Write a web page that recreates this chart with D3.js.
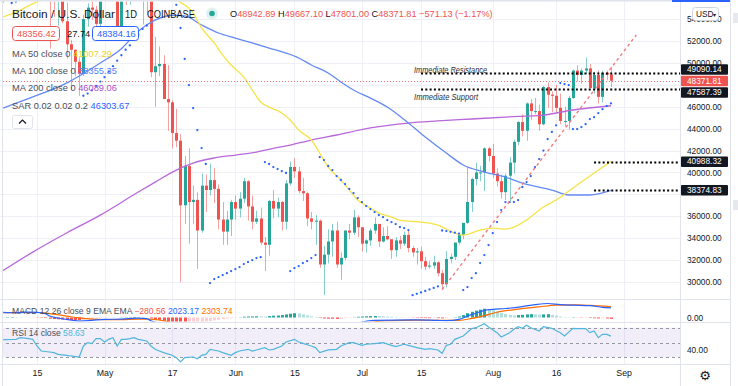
<!DOCTYPE html>
<html>
<head>
<meta charset="utf-8">
<script src="https://cdn.jsdelivr.net/npm/d3@7"></script>
<style>
  body { margin: 0; background: #fff; }
  svg { display: block; font-family: "Liberation Sans", Arial, sans-serif; }
</style>
</head>
<body>
<svg id="chart" width="738" height="386"></svg>
<script>
const parseDate = d3.utcParse("%Y-%m-%d");

// daily candles, first one is 2021-04-07
const firstDay = "2021-04-07";
const opens = [
  58020, 55950, 58080, 58130, 59770, 59980, 59840, 63580, 62960, 63200, 61400, 60000, 56150, 55650, 56500, 53800, 51700, 51200, 50100, 49000, 54000, 55050, 54850, 53560,
  57700, 57800, 56600, 57200, 53300, 57500, 56400, 57400, 58900, 58300, 55850, 56700, 49150, 49700, 49900, 46700, 46400, 43600, 42900, 37000, 40600, 37300, 37500, 34700, 38800, 38400, 39300, 38500, 35700, 34600, 35700,
  37300, 36700, 37600, 39200, 36900, 35500, 35800, 33600, 33400, 37400, 36700, 37300, 35500, 39000, 40500, 40100, 38300, 38100, 35800, 35500, 35600, 31600, 32500, 33700, 34700, 31600, 32200, 34700, 34500, 35900,
  35000, 33500, 33800, 34700, 35300, 33700, 34200, 33900, 32900, 33800, 33500, 34300, 33100, 32700, 32800, 31900, 31400, 31500, 31800, 30800, 29800, 32100, 32300, 33600, 34300, 35400, 37300, 39400, 40000, 40000, 42200,
  41500, 39900, 39200, 38200, 39700, 40900, 42800, 44600, 43800, 46300, 45600, 45600, 44400, 47800, 47100, 47000, 45900, 44700, 44700, 46800, 49300, 48900, 49300, 49500, 47700, 48900, 46900, 49100, 48942.89
];
const highs = [
  58650, 58140, 58900, 61200, 60700, 61200, 63800, 64900, 63800, 63600, 62500, 60400, 57500, 57000, 56800, 55500, 52100, 51200, 50500, 54400, 55450, 56400, 55200, 58000,
  58500, 57950, 58950, 57200, 58000, 58400, 58700, 59500, 59200, 59600, 57000, 58000, 52400, 51500, 50700, 49800, 46600, 45800, 43500, 41500, 42200, 38800, 38200, 39900, 39800, 40800, 40400, 38900, 37300, 36500, 37500,
  37900, 38200, 39500, 39300, 37900, 36500, 36800, 34100, 37500, 38400, 37700, 37400, 39300, 41000, 41300, 40500, 39500, 38200, 36400, 36100, 35700, 33300, 34800, 35300, 35500, 32700, 34700, 35300, 36600, 36100,
  35000, 33900, 34900, 35900, 35300, 35000, 35100, 33900, 34100, 34200, 34600, 34700, 33300, 33100, 33200, 32300, 31900, 32400, 31900, 31100, 32800, 32600, 33600, 34500, 35400, 40500, 39500, 40900, 40600, 42300, 42300,
  42600, 40400, 39800, 39900, 41400, 43000, 44700, 45300, 46400, 46700, 46800, 46200, 47900, 48200, 47400, 48000, 47200, 46000, 47000, 49400, 49800, 49500, 50500, 49900, 49200, 49300, 49300, 49300, 49667.10
];
const lows = [
  55470, 55700, 57700, 57900, 59200, 59370, 59800, 61300, 62000, 60000, 59600, 51300, 54200, 53400, 53600, 50400, 47500, 48800, 47000, 48800, 53300, 53900, 52400, 53000,
  57100, 56050, 56450, 53000, 52900, 55300, 55300, 56900, 56250, 53500, 54400, 48700, 46000, 48800, 46700, 43800, 42200, 42300, 30000, 35300, 33500, 35300, 31200, 34500, 36400, 37900, 37200, 34800, 33400, 33400, 34200,
  35700, 35900, 37200, 35600, 34800, 35300, 33400, 31000, 32400, 35800, 35900, 34700, 34800, 38800, 39500, 38100, 37400, 35100, 34800, 33400, 31300, 28800, 31700, 32300, 31300, 30200, 32000, 33900, 34300, 34100,
  32800, 32700, 33300, 34400, 33200, 33600, 33800, 32100, 32300, 33000, 33300, 32700, 32300, 31600, 31200, 31100, 31200, 31200, 30500, 29300, 29500, 31700, 32000, 33400, 33900, 35300, 36400, 38800, 39200, 38300, 41000,
  39500, 38700, 37600, 37500, 37400, 39900, 42500, 43300, 42900, 44800, 45300, 43800, 44300, 45900, 45500, 45500, 44400, 44200, 43900, 46700, 48300, 48100, 49000, 47700, 47200, 46300, 46400, 48400, 47801.00
];
const closes = [
  55950, 58080, 58130, 59770, 59980, 59840, 63580, 62960, 63200, 61400, 60000, 56150, 55650, 56500, 53800, 51700, 51200, 50100, 49000, 54000, 55050, 54850, 53560, 57700,
  57800, 56600, 57200, 53300, 57500, 56400, 57400, 58900, 58300, 55850, 56700, 49150, 49700, 49900, 46700, 46400, 43600, 42900, 37000, 40600, 37300, 37500, 34700, 38800, 38400, 39300, 38500, 35700, 34600, 35700, 37300,
  36700, 37600, 39200, 36900, 35500, 35800, 33600, 33400, 37400, 36700, 37300, 35500, 39000, 40500, 40100, 38300, 38100, 35800, 35500, 35600, 31600, 32500, 33700, 34700, 31600, 32200, 34700, 34500, 35900, 35000,
  33500, 33800, 34700, 35300, 33700, 34200, 33900, 32900, 33800, 33500, 34300, 33100, 32700, 32800, 31900, 31400, 31500, 31800, 30800, 29800, 32100, 32300, 33600, 34300, 35400, 37300, 39400, 40000, 40000, 42200, 41500,
  39900, 39200, 38200, 39700, 40900, 42800, 44600, 43800, 46300, 45600, 45600, 44400, 47800, 47100, 47000, 45900, 44700, 44700, 46800, 49300, 48900, 49300, 49500, 47700, 48900, 46900, 49100, 48942.94, 48371.81
];

// moving averages: [date, value]
const ma50 = [
  ["2021-04-07", 54200], ["2021-04-09", 54470], ["2021-04-16", 55750], ["2021-04-25", 56800], ["2021-05-05", 57300],
  ["2021-05-12", 57000], ["2021-05-18", 55740], ["2021-05-22", 54560], ["2021-05-24", 53190], ["2021-05-27", 51820],
  ["2021-05-29", 50720], ["2021-05-31", 49810], ["2021-06-03", 48710], ["2021-06-05", 47530], ["2021-06-07", 46430],
  ["2021-06-09", 45970], ["2021-06-12", 45430], ["2021-06-14", 44790], ["2021-06-16", 43870], ["2021-06-19", 42960],
  ["2021-06-21", 41770], ["2021-06-23", 40490], ["2021-06-26", 39310], ["2021-06-28", 38390], ["2021-06-30", 37480],
  ["2021-07-03", 36750], ["2021-07-05", 36290], ["2021-07-08", 35930], ["2021-07-10", 35650], ["2021-07-12", 35560],
  ["2021-07-15", 35470], ["2021-07-19", 35200], ["2021-07-23", 34470], ["2021-07-25", 34280], ["2021-07-29", 34740],
  ["2021-08-01", 34920], ["2021-08-04", 34830], ["2021-08-06", 35010], ["2021-08-09", 35650], ["2021-08-13", 36840],
  ["2021-08-16", 37480], ["2021-08-20", 38580], ["2021-08-24", 39670], ["2021-08-29", 41007.29]
];
const ma100 = [
  ["2021-04-07", 45880], ["2021-04-14", 46890], ["2021-04-22", 48160], ["2021-04-30", 49990], ["2021-05-05", 51300],
  ["2021-05-09", 52900], ["2021-05-13", 53900], ["2021-05-17", 54350], ["2021-05-20", 54300], ["2021-05-24", 53460],
  ["2021-05-28", 52730], ["2021-06-01", 52270], ["2021-06-05", 51820], ["2021-06-09", 51360], ["2021-06-13", 50900],
  ["2021-06-16", 50450], ["2021-06-19", 49810], ["2021-06-23", 49080], ["2021-06-26", 48260], ["2021-06-29", 47530],
  ["2021-07-03", 46790], ["2021-07-07", 45970], ["2021-07-12", 44510], ["2021-07-16", 43230], ["2021-07-21", 41770],
  ["2021-07-25", 40680], ["2021-07-30", 40040], ["2021-08-04", 39580], ["2021-08-08", 39030], ["2021-08-13", 38580],
  ["2021-08-15", 38390], ["2021-08-19", 37940], ["2021-08-24", 37940], ["2021-08-29", 38355.35]
];
const ma200 = [
  ["2021-04-06", 30810], ["2021-04-14", 32730], ["2021-04-22", 34470], ["2021-04-30", 36110], ["2021-05-09", 38210],
  ["2021-05-13", 39120], ["2021-05-18", 40220], ["2021-05-22", 40860], ["2021-05-27", 41320], ["2021-06-01", 41590],
  ["2021-06-06", 41860], ["2021-06-10", 42200], ["2021-06-14", 42500], ["2021-06-19", 42960], ["2021-06-25", 43420],
  ["2021-07-03", 44060], ["2021-07-12", 44510], ["2021-07-19", 44700], ["2021-07-27", 44880], ["2021-08-04", 45060],
  ["2021-08-13", 45240], ["2021-08-20", 45700], ["2021-08-29", 46089.06]
];

// parabolic SAR, one run of daily dots per trend: [first date, values]
const sarRuns = [
  ["2021-04-09", [55470, 55600, 55900, 56300, 56800, 57300, 57900, 58500, 59000]],
  ["2021-04-26", [47000, 47200, 47500, 47900, 48300, 48700, 49200, 49700, 50200, 50700, 51200, 51600, 52100, 52600, 53100, 53400]],
  ["2021-05-12", [59600, 59400, 59000, 58400, 57600, 56500, 55300, 53190, 50360, 47980, 45880, 43870, 42230, 40770]],
  ["2021-05-26", [29900, 30270, 30450, 30630, 30810, 31000, 31180, 31360, 31640, 31820, 32000, 32180, 32270]],
  ["2021-06-08", [40950, 40770, 40490, 40310, 40130, 39950]],
  ["2021-06-14", [31000, 31270, 31450, 31730, 31910, 32180, 32460]],
  ["2021-06-21", [41400, 41130, 40590, 40220, 39670, 39310, 38940, 38490, 38120, 37660, 37300, 36930, 36660, 36380, 36110, 35930, 35650, 35470, 35290, 35010, 34920, 34740]],
  ["2021-07-13", [28800, 28920, 29050, 29180, 29320, 29460, 29600]],
  ["2021-07-20", [34700, 34650, 34580, 34500, 34420]],
  ["2021-07-25", [29260, 29540, 30360, 30810, 31730, 32460, 33370, 34470, 35470, 36570, 37300, 37300, 37300, 37480, 38670, 39120, 39670, 40490, 41220, 42000, 43050, 43700, 44300]],
  ["2021-08-17", [48160, 48070, 47980]],
  ["2021-08-20", [43960, 43960, 44140, 44410, 44870, 45050, 45420, 45780, 46060, 46303.67]]
];

// MACD 12 26 9
const macdLine = [
  ["2021-04-07", 1100], ["2021-04-10", 1000], ["2021-04-13", 1150], ["2021-04-15", 1100], ["2021-04-17", 800],
  ["2021-04-18", 300], ["2021-04-20", -100], ["2021-04-22", -400], ["2021-04-25", -750], ["2021-04-28", -600],
  ["2021-05-01", -400], ["2021-05-05", -350], ["2021-05-09", -150], ["2021-05-11", -250], ["2021-05-12", -700],
  ["2021-05-14", -1200], ["2021-05-19", -3000], ["2021-05-24", -4200], ["2021-05-30", -4400], ["2021-06-06", -3800],
  ["2021-06-14", -2600], ["2021-06-21", -2700], ["2021-06-27", -1900], ["2021-07-02", -800], ["2021-07-04", -600],
  ["2021-07-09", -560], ["2021-07-14", -520], ["2021-07-19", -620], ["2021-07-21", -650], ["2021-07-24", -400],
  ["2021-07-26", 300], ["2021-07-28", 900], ["2021-07-30", 1500], ["2021-08-01", 1700], ["2021-08-04", 1900],
  ["2021-08-08", 2300], ["2021-08-11", 2700], ["2021-08-14", 2950], ["2021-08-17", 2700], ["2021-08-20", 2600],
  ["2021-08-24", 2500], ["2021-08-27", 2150], ["2021-08-29", 2023.17]
];
const signalLine = [
  ["2021-04-07", 1000], ["2021-04-13", 1050], ["2021-04-16", 1050], ["2021-04-19", 700], ["2021-04-22", 300],
  ["2021-04-25", -100], ["2021-04-28", -350], ["2021-05-01", -450], ["2021-05-05", -430], ["2021-05-09", -330],
  ["2021-05-12", -350], ["2021-05-15", -700], ["2021-05-20", -1900], ["2021-05-26", -3300], ["2021-06-02", -4000],
  ["2021-06-10", -3500], ["2021-06-18", -3000], ["2021-06-25", -2500], ["2021-07-01", -1400], ["2021-07-05", -800],
  ["2021-07-10", -600], ["2021-07-15", -560], ["2021-07-20", -600], ["2021-07-24", -600], ["2021-07-27", -200],
  ["2021-07-30", 400], ["2021-08-02", 1100], ["2021-08-07", 1750], ["2021-08-12", 2250], ["2021-08-16", 2600],
  ["2021-08-20", 2650], ["2021-08-24", 2550], ["2021-08-29", 2303.74]
];
// histogram, one bar per candle
const macdHist = [
  60, 80, 90, 70, 60, 40, 30,
  -20, -50, -80, -120,
  -250, -330, -380, -430, -480, -520, -540, -560,
  -450, -330, -250, -180, -100, -40, 0,
  20, 0, 40, 60, 90, 120, 120, 70, 40,
  -150, -350, -500, -700, -900, -1100, -1300, -1500, -1600,
  -1500, -1350, -1200, -1050, -900, -750, -600, -480, -350, -220, -120, -40,
  50, 150, 200, 220, 250, 240, 200, 300, 380, 420, 500, 650, 800, 900, 850,
  650, 450, 250, 100, -100, -200, -250, -250, -300, -250,
  -150, -50, 50, 150, 200, 250, 300, 320, 300, 250,
  200, 150, 100, 60, 30, -20, -50, -80, -100, -120, -130, -120, -140, -180, -100, -20, 60,
  200, 500, 900, 1200, 1450, 1650, 1850, 1800, 1600,
  1300, 1000, 750, 550, 450,
  500, 550, 650, 700, 650, 600, 650, 700,
  550, 400, 200, 80, 40, 60,
  -20, -60, -50, -100, -150, -200, -150, -200, -280.56
];

// RSI 14
const rsiPoints = [
  ["2021-04-07", 54], ["2021-04-10", 54.3], ["2021-04-11", 56.5], ["2021-04-13", 55.2], ["2021-04-14", 54.3],
  ["2021-04-15", 45.3], ["2021-04-16", 38.5], ["2021-04-18", 37.2], ["2021-04-19", 36.3], ["2021-04-20", 34],
  ["2021-04-22", 32.7], ["2021-04-23", 31.8], ["2021-04-25", 30.4], ["2021-04-26", 45.3], ["2021-04-27", 49.8],
  ["2021-04-28", 48.4], ["2021-04-29", 55.2], ["2021-04-30", 55.2], ["2021-05-01", 50.7], ["2021-05-02", 54.3],
  ["2021-05-03", 56.5], ["2021-05-04", 45.3], ["2021-05-05", 54.3], ["2021-05-06", 54.3], ["2021-05-07", 55.2],
  ["2021-05-08", 56.5], ["2021-05-09", 54.3], ["2021-05-11", 52], ["2021-05-12", 45.3], ["2021-05-13", 40.8],
  ["2021-05-14", 38.5], ["2021-05-15", 36.3], ["2021-05-17", 32.7], ["2021-05-18", 29.5], ["2021-05-19", 23.7],
  ["2021-05-20", 29.5], ["2021-05-22", 30.4], ["2021-05-23", 28.1], ["2021-05-24", 32.7], ["2021-05-25", 34],
  ["2021-05-26", 40.8], ["2021-05-28", 38.5], ["2021-05-29", 36.3], ["2021-05-31", 32.7], ["2021-06-01", 36.3],
  ["2021-06-02", 38.5], ["2021-06-04", 40.8], ["2021-06-05", 38.5], ["2021-06-06", 39.9], ["2021-06-08", 43.1],
  ["2021-06-09", 39.9], ["2021-06-10", 40.8], ["2021-06-12", 45.3], ["2021-06-13", 50.7], ["2021-06-15", 54.3],
  ["2021-06-16", 50.7], ["2021-06-17", 48.9], ["2021-06-19", 45.3], ["2021-06-20", 43.1], ["2021-06-21", 36.3],
  ["2021-06-23", 40], ["2021-06-25", 40.8], ["2021-06-26", 45.3], ["2021-06-28", 49.8], ["2021-06-29", 49.8],
  ["2021-07-01", 46.2], ["2021-07-02", 47.6], ["2021-07-04", 48.5], ["2021-07-06", 49.8], ["2021-07-08", 46.2],
  ["2021-07-09", 44.4], ["2021-07-11", 47.6], ["2021-07-12", 46.2], ["2021-07-14", 43.1], ["2021-07-16", 40.8],
  ["2021-07-17", 41.7], ["2021-07-19", 39.9], ["2021-07-20", 35.4], ["2021-07-21", 46.2], ["2021-07-22", 47.6],
  ["2021-07-23", 54.3], ["2021-07-25", 58.8], ["2021-07-27", 68.7], ["2021-07-28", 70], ["2021-07-30", 75.4],
  ["2021-07-31", 70.9], ["2021-08-02", 63.3], ["2021-08-03", 57.4], ["2021-08-05", 63.3], ["2021-08-06", 67.8],
  ["2021-08-07", 71.4], ["2021-08-08", 69.2], ["2021-08-09", 73.3], ["2021-08-10", 70], ["2021-08-12", 65.6],
  ["2021-08-13", 71.4], ["2021-08-15", 69.2], ["2021-08-17", 63.3], ["2021-08-18", 58.8], ["2021-08-20", 69.2],
  ["2021-08-21", 68.7], ["2021-08-23", 68.7], ["2021-08-24", 63.3], ["2021-08-25", 65.6], ["2021-08-26", 56.5],
  ["2021-08-27", 61], ["2021-08-28", 61], ["2021-08-29", 58.63]
];

// drawings
const trendPoints = [["2021-07-20", 29300], ["2021-09-04", 52550]];
const levelPrices = [49090.14, 47587.39, 40988.32, 38374.83];
const levelStarts = ["2021-07-15", "2021-07-15", "2021-08-25", "2021-08-25"];
const levelNotes = ["Immediate Resistance", "Immediate Support", "", ""];

const priceTicks = [30000, 32000, 34000, 36000, 38000, 40000, 42000, 44000, 46000, 48000, 50000, 52000, 54000];
const tickDates = ["2021-04-15", "2021-05-01", "2021-05-17", "2021-06-01", "2021-06-15", "2021-07-01", "2021-07-15", "2021-08-01", "2021-08-16", "2021-09-01"];
const tickLabels = ["15", "May", "17", "Jun", "15", "Jul", "15", "Aug", "16", "Sep"];

const bidAsk = ["48356.42", "27.74", "48384.16"];

// ---------------------------------------------------------------
const up = "#26a69a", down = "#ef5350";
const font = '"Liberation Sans", Arial, sans-serif';
const fmt = d3.format(".2f");
const plotRight = 680;

const candles = opens.map((o, i) => ({
  date: d3.utcDay.offset(parseDate(firstDay), i),
  open: o, high: highs[i], low: lows[i], close: closes[i]
}));

const svg = d3.select("#chart");

const xScale = d3.scaleUtc()
  .domain([parseDate("2021-04-15"), parseDate("2021-09-01")])
  .range([37, 623.6]);
const yScale = d3.scaleLinear().domain([30000, 52000]).range([282, 41]);
const yMacd = d3.scaleLinear().domain([-740, 3900]).range([321, 299]);
const yRsi = d3.scaleLinear().domain([30, 70]).range([357.3, 327.7]);

const px = (d) => Math.round(xScale(d)) + 0.5;

const defs = svg.append("defs");
defs.append("clipPath").attr("id", "clip-price")
  .append("rect").attr("x", 3).attr("y", 1.5).attr("width", plotRight - 3).attr("height", 297.5);
defs.append("clipPath").attr("id", "clip-macd")
  .append("rect").attr("x", 3).attr("y", 300).attr("width", plotRight - 3).attr("height", 21.5);
defs.append("clipPath").attr("id", "clip-rsi")
  .append("rect").attr("x", 3).attr("y", 323).attr("width", plotRight - 3).attr("height", 41);

// grid
const grid = svg.append("g").attr("stroke", "#eef0f6").attr("stroke-width", 1);
grid.selectAll(".hgrid").data(priceTicks).join("line")
  .attr("x1", 0).attr("x2", plotRight)
  .attr("y1", (d) => Math.round(yScale(d)) + 0.5)
  .attr("y2", (d) => Math.round(yScale(d)) + 0.5);
grid.selectAll(".vgrid").data(tickDates).join("line")
  .attr("x1", (d) => px(parseDate(d))).attr("x2", (d) => px(parseDate(d)))
  .attr("y1", 0).attr("y2", 365);

// price pane
const pricePane = svg.append("g").attr("clip-path", "url(#clip-price)");

pricePane.selectAll(".wick").data(candles).join("line")
  .attr("x1", (d) => px(d.date)).attr("x2", (d) => px(d.date))
  .attr("y1", (d) => yScale(d.high)).attr("y2", (d) => yScale(d.low))
  .attr("stroke", (d) => (d.close >= d.open ? up : down))
  .attr("stroke-opacity", 0.55);

pricePane.selectAll(".body").data(candles).join("rect")
  .attr("x", (d) => Math.round(xScale(d.date)) - 1)
  .attr("width", 3)
  .attr("y", (d) => yScale(Math.max(d.open, d.close)))
  .attr("height", (d) => Math.max(1, Math.abs(yScale(d.open) - yScale(d.close))))
  .attr("fill", (d) => (d.close >= d.open ? up : down));

const maLine = d3.line()
  .x((d) => xScale(parseDate(d[0])))
  .y((d) => yScale(d[1]))
  .curve(d3.curveMonotoneX);

[[ma200, "#b868d8"], [ma100, "#6489f2"], [ma50, "#f6e348"]].forEach(([pts, color]) => {
  pricePane.append("path").datum(pts)
    .attr("d", maLine).attr("fill", "none")
    .attr("stroke", color).attr("stroke-width", 1.3);
});

const sarDots = sarRuns.flatMap(([start, vals]) =>
  vals.map((v, i) => ({ date: d3.utcDay.offset(parseDate(start), i), value: v }))
);
pricePane.selectAll(".sar").data(sarDots).join("circle")
  .attr("cx", (d) => xScale(d.date)).attr("cy", (d) => yScale(d.value))
  .attr("r", 1.15).attr("fill", "#2962ff");

// trend line
pricePane.append("path").datum(trendPoints)
  .attr("d", d3.line().x((d) => xScale(parseDate(d[0]))).y((d) => yScale(d[1])))
  .attr("stroke", "#f47a7c").attr("stroke-width", 1.4)
  .attr("stroke-dasharray", "3,3").attr("fill", "none");

// last price line
const lastCandle = candles[candles.length - 1];
const prevCandle = candles[candles.length - 2];
pricePane.append("line")
  .attr("x1", 0).attr("x2", plotRight)
  .attr("y1", Math.round(yScale(lastCandle.close)) + 0.5)
  .attr("y2", Math.round(yScale(lastCandle.close)) + 0.5)
  .attr("stroke", down).attr("stroke-dasharray", "1,2").attr("stroke-opacity", 0.8);

// level lines
levelPrices.forEach((p, i) => {
  const ly = Math.round(yScale(p)) + 0.5;
  pricePane.append("line")
    .attr("x1", xScale(parseDate(levelStarts[i]))).attr("x2", plotRight)
    .attr("y1", ly).attr("y2", ly)
    .attr("stroke", "#000").attr("stroke-width", 2)
    .attr("stroke-dasharray", "2,2.3");
  if (levelNotes[i]) {
    const above = p > lastCandle.close;
    const t = svg.append("text")
      .attr("x", xScale(parseDate(levelStarts[i])) - 7)
      .attr("y", above ? ly - 1 : ly + 10)
      .attr("font-size", 8.6).attr("font-style", "italic")
      .attr("fill", "#2a2e39").attr("font-family", font)
      .text(levelNotes[i]);
    t.attr("textLength", above ? 73 : 64).attr("lengthAdjust", "spacingAndGlyphs");
  }
});

// macd pane
const macdPane = svg.append("g").attr("clip-path", "url(#clip-macd)");
macdPane.selectAll(".hist").data(macdHist).join("rect")
  .attr("x", (d, i) => Math.round(xScale(candles[i].date)) - 1)
  .attr("width", 3)
  .attr("y", (d) => (d >= 0 ? yMacd(d) : yMacd(0)))
  .attr("height", (d) => Math.abs(yMacd(d) - yMacd(0)))
  .attr("fill", (d, i) => {
    const prev = i > 0 ? macdHist[i - 1] : d;
    if (d >= 0) return prev < d ? "#26a69a" : "#b2dfdb";
    return prev < d ? "#ffcdd2" : "#ff5252";
  });

const macdPath = d3.line()
  .x((d) => xScale(parseDate(d[0])))
  .y((d) => yMacd(d[1]))
  .curve(d3.curveMonotoneX);
macdPane.append("path").datum(signalLine).attr("d", macdPath)
  .attr("fill", "none").attr("stroke", "#ff6d00").attr("stroke-width", 1.2);
macdPane.append("path").datum(macdLine).attr("d", macdPath)
  .attr("fill", "none").attr("stroke", "#2962ff").attr("stroke-width", 1.2);

// rsi pane
const rsiPane = svg.append("g").attr("clip-path", "url(#clip-rsi)");
rsiPane.append("rect")
  .attr("x", 0).attr("width", plotRight)
  .attr("y", yRsi(70)).attr("height", yRsi(30) - yRsi(70))
  .attr("fill", "#7e57c2").attr("fill-opacity", 0.1);
rsiPane.selectAll(".band").data([70, 50, 30]).join("line")
  .attr("x1", 0).attr("x2", plotRight)
  .attr("y1", (d) => Math.round(yRsi(d)) + 0.5).attr("y2", (d) => Math.round(yRsi(d)) + 0.5)
  .attr("stroke", "#9598a1").attr("stroke-dasharray", "3,3");
rsiPane.append("path").datum(rsiPoints)
  .attr("d", d3.line().x((d) => xScale(parseDate(d[0]))).y((d) => yRsi(d[1])))
  .attr("fill", "none").attr("stroke", "#4fb6dc").attr("stroke-width", 1.2);

// frame lines
const frame = svg.append("g").attr("stroke", "#e0e3eb").attr("stroke-width", 1);
frame.append("line").attr("x1", 0).attr("x2", 730).attr("y1", 299.5).attr("y2", 299.5);
frame.append("line").attr("x1", 0).attr("x2", 730).attr("y1", 322.5).attr("y2", 322.5);
frame.append("line").attr("x1", 0).attr("x2", 730).attr("y1", 364.5).attr("y2", 364.5);
frame.append("line").attr("x1", 680.5).attr("x2", 680.5).attr("y1", 0).attr("y2", 386);
frame.append("line").attr("x1", 730.5).attr("x2", 730.5).attr("y1", 0).attr("y2", 386);
frame.append("line").attr("x1", 2.5).attr("x2", 2.5).attr("y1", 0).attr("y2", 386);
svg.append("rect").attr("x", 0).attr("y", 0).attr("width", 730).attr("height", 1.5).attr("fill", "#e0e3eb");
svg.append("rect").attr("x", 672).attr("y", 0).attr("width", 58).attr("height", 2).attr("fill", "#2962ff");
svg.append("rect").attr("x", 733).attr("y", 13).attr("width", 5).attr("height", 10).attr("fill", "#e6e8ee");
svg.append("rect").attr("x", 733).attr("y", 200).attr("width", 5).attr("height", 10).attr("fill", "#e6e8ee");

// price tags on the axis, pushed apart when they overlap
const tags = [{ price: lastCandle.close, fill: down }]
  .concat(levelPrices.map((p) => ({ price: p, fill: "#131722" })))
  .map((t) => ({ ...t, cy: yScale(t.price) }))
  .sort((a, b) => a.cy - b.cy);
const tagH = 11.5;
for (let k = 0; k < 30; k++) {
  for (let i = 1; i < tags.length; i++) {
    const over = tagH - (tags[i].cy - tags[i - 1].cy);
    if (over > 0) {
      tags[i - 1].cy -= over / 2;
      tags[i].cy += over / 2;
    }
  }
}

// axes (tick labels sitting right under a price tag are hidden, as on the reference)
const styleAxis = (g, size) => {
  g.select(".domain").remove();
  g.selectAll("text").attr("font-size", size).attr("fill", "#131722").attr("font-family", font);
};
const visibleTicks = priceTicks.filter((t) => tags.every((g) => Math.abs(g.cy - yScale(t)) > 4.5));
svg.append("g").attr("transform", `translate(${plotRight},0)`)
  .call(d3.axisRight(yScale).tickValues(visibleTicks).tickFormat(fmt).tickSize(0).tickPadding(7))
  .call((g) => styleAxis(g, 8.3));
svg.append("g").attr("transform", `translate(${plotRight},0)`)
  .call(d3.axisRight(yMacd).tickValues([0]).tickFormat(fmt).tickSize(0).tickPadding(7))
  .call((g) => styleAxis(g, 8.3));
svg.append("g").attr("transform", `translate(${plotRight},0)`)
  .call(d3.axisRight(yRsi).tickValues([40]).tickFormat(fmt).tickSize(0).tickPadding(7))
  .call((g) => styleAxis(g, 8.3));
svg.append("g").attr("transform", "translate(0,365)")
  .call(d3.axisBottom(xScale).tickValues(tickDates.map(parseDate)).tickFormat((d, i) => tickLabels[i]).tickSize(0).tickPadding(5))
  .call((g) => styleAxis(g, 8.8));

const tagG = svg.append("g");
tagG.selectAll("rect").data(tags).join("rect")
  .attr("x", 681).attr("width", 47)
  .attr("y", (d) => d.cy - tagH / 2 + 0.5).attr("height", tagH - 1)
  .attr("rx", 1).attr("fill", (d) => d.fill);
tagG.selectAll("text").data(tags).join("text")
  .attr("x", 687).attr("y", (d) => d.cy).attr("dy", "0.34em")
  .attr("font-size", 8.3).attr("fill", "#fff").attr("font-family", font)
  .text((d) => fmt(d.price));

// USD button
svg.append("rect").attr("x", 692.5).attr("y", 7.5).attr("width", 26).attr("height", 13).attr("rx", 3)
  .attr("fill", "#fff").attr("stroke", "#d1d4dc");
svg.append("text").attr("x", 696).attr("y", 17).attr("font-size", 8.3).attr("fill", "#131722")
  .attr("font-family", font).text("USD");
svg.append("text").attr("x", 713).attr("y", 16.5).attr("font-size", 6).attr("fill", "#131722")
  .attr("font-family", font).text("▾");

// gear
svg.append("text").attr("x", 705).attr("y", 375).attr("text-anchor", "middle")
  .attr("dominant-baseline", "central").attr("font-size", 13).attr("fill", "#131722")
  .attr("font-family", "DejaVu Sans").text("⚙");

// legend
const legend = svg.append("g").attr("font-family", font);
legend.append("text").attr("x", 12).attr("y", 17.5).attr("font-size", 11.5).attr("fill", "#131722")
  .attr("textLength", 103).attr("lengthAdjust", "spacingAndGlyphs").text("Bitcoin / U.S. Dollar");
legend.append("text").attr("x", 125).attr("y", 17.5).attr("font-size", 11.5).attr("fill", "#131722")
  .attr("textLength", 12).attr("lengthAdjust", "spacingAndGlyphs").text("1D");
legend.append("text").attr("x", 147).attr("y", 17.5).attr("font-size", 11.5).attr("fill", "#131722")
  .attr("textLength", 48).attr("lengthAdjust", "spacingAndGlyphs").text("COINBASE");
legend.append("circle").attr("cx", 212).attr("cy", 13.5).attr("r", 6).attr("fill", up).attr("fill-opacity", 0.15);
legend.append("circle").attr("cx", 212).attr("cy", 13.5).attr("r", 2.8).attr("fill", up);

const change = lastCandle.close - prevCandle.close;
const ohlc = legend.append("text").attr("x", 230).attr("y", 17.3).attr("font-size", 9.2).attr("fill", down);
[["O", lastCandle.open], [" H", lastCandle.high], [" L", lastCandle.low], [" C", lastCandle.close]].forEach(([k, v]) => {
  ohlc.append("tspan").attr("fill", "#131722").text(k);
  ohlc.append("tspan").text(fmt(v));
});
ohlc.append("tspan").text(` ${fmt(change).replace("-", "−")} (${fmt((change / prevCandle.close) * 100).replace("-", "−")}%)`);

legend.append("rect").attr("x", 12.5).attr("y", 26.5).attr("width", 47).attr("height", 14).attr("rx", 3)
  .attr("fill", "#fff").attr("stroke", down);
legend.append("text").attr("x", 17).attr("y", 37.3).attr("font-size", 9.3).attr("fill", down).text(bidAsk[0]);
legend.append("text").attr("x", 67).attr("y", 37.3).attr("font-size", 9.3).attr("fill", "#131722").text(bidAsk[1]);
legend.append("rect").attr("x", 92.5).attr("y", 26.5).attr("width", 46).attr("height", 14).attr("rx", 3)
  .attr("fill", "#fff").attr("stroke", "#2962ff");
legend.append("text").attr("x", 97).attr("y", 37.3).attr("font-size", 9.3).attr("fill", "#2962ff").text(bidAsk[2]);

const rows = [
  ["MA 50 close 0", ma50[ma50.length - 1][1], "#e8d22a", 56.5],
  ["MA 100 close 0", ma100[ma100.length - 1][1], "#4f7ff7", 74],
  ["MA 200 close 0", ma200[ma200.length - 1][1], "#a94fcc", 91.3],
  ["SAR 0.02 0.02 0.2", sarDots[sarDots.length - 1].value, "#2962ff", 108.7]
];
rows.forEach(([name, val, color, ty]) => {
  const t = legend.append("text").attr("x", 12).attr("y", ty).attr("font-size", 9.3).attr("fill", "#4a4e59");
  t.append("tspan").text(name + " ");
  t.append("tspan").attr("fill", color).text(fmt(val));
});
legend.append("rect").attr("x", 12.5).attr("y", 115.5).attr("width", 20).attr("height", 13).attr("rx", 2)
  .attr("fill", "#fff").attr("stroke", "#e0e3eb");
legend.append("path").attr("d", "M19 123.5 L22.5 120 L26 123.5")
  .attr("fill", "none").attr("stroke", "#131722").attr("stroke-width", 1.2);

const macdLegend = legend.append("text").attr("x", 12).attr("y", 314).attr("font-size", 8.6).attr("fill", "#4a4e59");
macdLegend.append("tspan").text("MACD 12 26 close 9 EMA EMA ");
macdLegend.append("tspan").attr("fill", down).text(" " + fmt(macdHist[macdHist.length - 1]).replace("-", "−"));
macdLegend.append("tspan").attr("fill", "#2962ff").text("  " + fmt(macdLine[macdLine.length - 1][1]));
macdLegend.append("tspan").attr("fill", "#ff6d00").text("  " + fmt(signalLine[signalLine.length - 1][1]));

const rsiLegend = legend.append("text").attr("x", 12).attr("y", 336).attr("font-size", 8.6).attr("fill", "#4a4e59");
rsiLegend.append("tspan").text("RSI 14 close ");
rsiLegend.append("tspan").attr("fill", "#4fb6dc").text(" " + fmt(rsiPoints[rsiPoints.length - 1][1]));
</script>
</body>
</html>
